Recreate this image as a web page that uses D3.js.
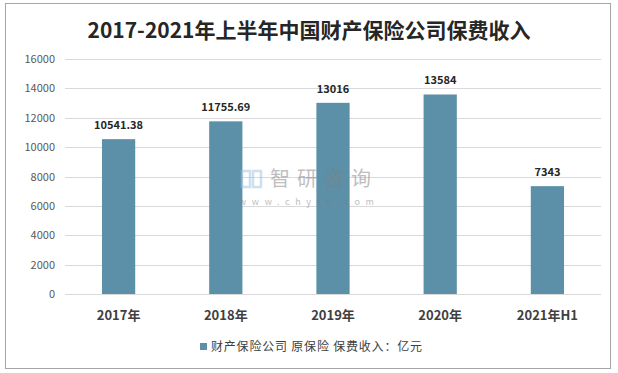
<!DOCTYPE html>
<html>
<head>
<meta charset="utf-8">
<script src="https://cdn.jsdelivr.net/npm/d3@7"></script>
<style>
  body { margin: 0; background: #fff; }
  #chart svg { display: block; font-family: "Microsoft YaHei", "Noto Sans CJK SC", sans-serif; }
</style>
</head>
<body>
<div id="chart"></div>
<script>
let categories = ["2017年", "2018年", "2019年", "2020年", "2021年H1"];
let values = [10541.38, 11755.69, 13016, 13584, 7343];
let valueLabels = ["10541.38", "11755.69", "13016", "13584", "7343"];
let yTicks = [0, 2000, 4000, 6000, 8000, 10000, 12000, 14000, 16000];
let title = "2017-2021年上半年中国财产保险公司保费收入";
let legendText = "财产保险公司 原保险 保费收入：亿元";

let WIDTH = 618, HEIGHT = 373;
let BAR_COLOR = "#5B90A8";

let svg = d3.select("#chart")
    .append("svg")
    .attr("width", WIDTH)
    .attr("height", HEIGHT);

// outer frame
svg.append("rect")
    .attr("x", 5.5).attr("y", 3.5)
    .attr("width", 605).attr("height", 365)
    .attr("fill", "#fff")
    .attr("stroke", "#a6a6a6");

svg.append("text")
    .attr("x", 309).attr("y", 38)
    .attr("text-anchor", "middle")
    .attr("font-size", 21).attr("font-weight", "bold")
    .attr("fill", "#262626")
    .text(title);

let x = d3.scaleBand()
    .domain(categories)
    .range([65, 601])
    .paddingInner(0.69)
    .paddingOuter(0.345);

let y = d3.scaleLinear()
    .domain([0, 16000])
    .range([294, 59]);

// gridlines
svg.append("g")
    .selectAll("line")
    .data(yTicks.filter(d => d > 0))
    .enter()
    .append("line")
    .attr("x1", 65).attr("x2", 601)
    .attr("y1", d => Math.round(y(d)) + 0.5)
    .attr("y2", d => Math.round(y(d)) + 0.5)
    .attr("stroke", "#d9d9d9");

// y tick labels
svg.append("g")
    .selectAll("text")
    .data(yTicks)
    .enter()
    .append("text")
    .attr("x", 55)
    .attr("y", d => y(d) + 4)
    .attr("text-anchor", "end")
    .attr("font-size", 11)
    .attr("fill", "#595959")
    .text(d => d);

// bars
svg.append("g")
    .selectAll("rect")
    .data(values)
    .enter()
    .append("rect")
    .attr("x", (d, i) => x(categories[i]))
    .attr("y", d => y(d))
    .attr("width", x.bandwidth())
    .attr("height", d => y(0) - y(d))
    .attr("fill", BAR_COLOR);

// watermark (drawn over the bars, semi transparent)
let wm = svg.append("g").attr("opacity", 0.5);
wm.append("rect").attr("x", 242).attr("y", 171).attr("width", 8).attr("height", 16).attr("fill", "none").attr("stroke", "#9fc0de").attr("stroke-width", 2.5);
wm.append("rect").attr("x", 253).attr("y", 171).attr("width", 8).attr("height", 16).attr("fill", "none").attr("stroke", "#9fc0de").attr("stroke-width", 2.5);
wm.append("text")
    .attr("x", 270).attr("y", 186)
    .attr("font-size", 20)
    .attr("letter-spacing", 7)
    .attr("fill", "#808080")
    .text("智研咨询");
wm.append("text")
    .attr("x", 239).attr("y", 205)
    .attr("font-size", 9)
    .attr("letter-spacing", 5.6)
    .attr("fill", "#808080")
    .text("www.chyxx.com");

// x axis line
svg.append("line")
    .attr("x1", 65).attr("x2", 601)
    .attr("y1", 294.5).attr("y2", 294.5)
    .attr("stroke", "#d9d9d9");

// data labels
svg.append("g")
    .selectAll("text")
    .data(values)
    .enter()
    .append("text")
    .attr("x", (d, i) => x(categories[i]) + x.bandwidth() / 2)
    .attr("y", d => y(d) - 10)
    .attr("text-anchor", "middle")
    .attr("font-size", 11).attr("font-weight", "bold")
    .attr("fill", "#262626")
    .text((d, i) => valueLabels[i]);

// category labels
svg.append("g")
    .selectAll("text")
    .data(categories)
    .enter()
    .append("text")
    .attr("x", d => x(d) + x.bandwidth() / 2)
    .attr("y", 320)
    .attr("text-anchor", "middle")
    .attr("font-size", 13).attr("font-weight", "bold")
    .attr("fill", "#404040")
    .text(d => d);

// legend
svg.append("rect")
    .attr("x", 200).attr("y", 343)
    .attr("width", 7).attr("height", 7)
    .attr("fill", BAR_COLOR);
svg.append("text")
    .attr("x", 211).attr("y", 351)
    .attr("font-size", 12)
    .attr("letter-spacing", 0.8)
    .attr("fill", "#404040")
    .text(legendText);
</script>
</body>
</html>
